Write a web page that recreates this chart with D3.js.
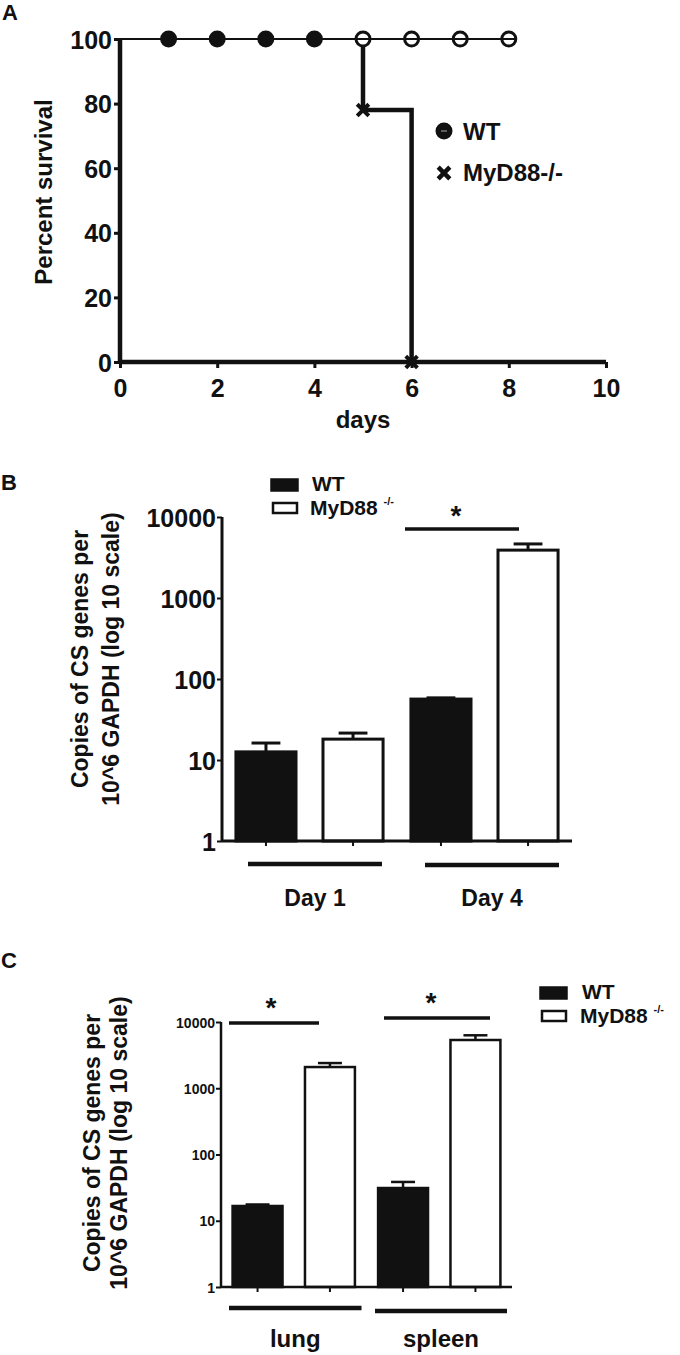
<!DOCTYPE html>
<html><head><meta charset="utf-8">
<script src="https://cdn.jsdelivr.net/npm/d3@7"></script>
<style>
body{margin:0;background:#fff;}
svg{display:block;}
text{font-family:"Liberation Sans",Arial,sans-serif;font-weight:bold;fill:#111;}
</style></head><body>
<script>
// ---------- Panel A data (survival) ----------
const wtDays = [0,1,2,3,4,5,6,7,8];
const wtSurvival = [100,100,100,100,100,100,100,100,100];
const myd88Days = [0,5,6];
const myd88Survival = [100,78,0];
const survXTicks = [0,2,4,6,8,10];
const survYTicks = [0,20,40,60,80,100];

// ---------- Panel B data (blood, by day) ----------
const dayCategories = ["Day 1","Day 4"];
const seriesNames = ["WT","MyD88"];
const dayWT = [12.6, 56.5];
const dayWTerr = [16.2, 58.5];
const dayMyD88 = [18.1, 3900];
const dayMyD88err = [21.5, 4650];

// ---------- Panel C data (tissues) ----------
const tissueCategories = ["lung","spleen"];
const tissueWT = [16.7, 31.2];
const tissueWTerr = [17.6, 38.5];
const tissueMyD88 = [2090, 5350];
const tissueMyD88err = [2400, 6300];

const logTicks = [1,10,100,1000,10000];

const W = 680, H = 1355;
const svg = d3.select("body").append("svg").attr("width",W).attr("height",H);
const ink = "#111";

// ================= Panel A =================
{
  const x = d3.scaleLinear().domain([0,10]).range([120,606]);
  const y = d3.scaleLinear().domain([0,100]).range([362,39]);
  const g = svg.append("g");
  g.append("text").attr("x",2).attr("y",20).attr("font-size",22).text("A");

  const xa = g.append("g").attr("transform",`translate(0,${y(0)})`)
    .call(d3.axisBottom(x).tickValues(survXTicks).tickSize(6).tickPadding(5).tickFormat(d3.format("d")));
  const ya = g.append("g").attr("transform",`translate(${x(0)},0)`)
    .call(d3.axisLeft(y).tickValues(survYTicks).tickSize(6).tickPadding(2).tickFormat(d3.format("d")));
  [xa,ya].forEach(a=>{
    a.select(".domain").attr("stroke",ink).attr("stroke-width",4.5);
    a.selectAll(".tick line").attr("stroke",ink).attr("stroke-width",3);
    a.selectAll(".tick text").attr("font-size",25).attr("fill",ink).attr("font-family","Liberation Sans, Arial, sans-serif");
  });
  xa.selectAll(".tick text").attr("dy","0.95em");
  ya.selectAll(".tick text").attr("dy","0.36em");
  xa.select(".domain").attr("d",`M${x(0)},0H${x(10)}`);
  ya.select(".domain").attr("d",`M0,${y(0)}V${y(100)}`);

  g.append("text").attr("transform",`translate(52,192) rotate(-90)`).attr("text-anchor","middle")
    .attr("font-size",24).text("Percent survival");
  g.append("text").attr("x",363).attr("y",428).attr("text-anchor","middle").attr("font-size",24).text("days");

  // MyD88 step curve (thick), starting at the first drop
  const mPts = myd88Days.map((d,i)=>[d,myd88Survival[i]]);
  const mPath = [[mPts[1][0], mPts[0][1]], ...mPts.slice(1)];
  g.append("path").attr("d", d3.line().x(d=>x(d[0])).y(d=>y(d[1])).curve(d3.curveStepAfter)(mPath))
    .attr("fill","none").attr("stroke",ink).attr("stroke-width",4.5);

  // WT line thin
  const wPts = wtDays.map((d,i)=>[d,wtSurvival[i]]);
  g.append("path").attr("d", d3.line().x(d=>x(d[0])).y(d=>y(d[1])).curve(d3.curveStepAfter)(wPts))
    .attr("fill","none").attr("stroke",ink).attr("stroke-width",2);

  // WT markers
  wPts.slice(1).forEach(p=>{
    const cx = x(p[0]), cy = y(p[1]);
    if (p[0] <= 4) {
      g.append("circle").attr("cx",cx).attr("cy",cy).attr("r",8.5).attr("fill",ink);
    } else {
      g.append("circle").attr("cx",cx).attr("cy",cy).attr("r",7).attr("fill","#fff").attr("stroke",ink).attr("stroke-width",3);
      g.append("line").attr("x1",cx-7).attr("x2",cx+7).attr("y1",cy).attr("y2",cy).attr("stroke",ink).attr("stroke-width",2);
    }
  });
  // MyD88 markers
  const cross = d3.symbol().type(d3.symbolX).size(90);
  mPts.slice(1).forEach(p=>{
    g.append("path").attr("d",cross()).attr("transform",`translate(${x(p[0])},${y(p[1])})`)
      .attr("fill","none").attr("stroke",ink).attr("stroke-width",4);
  });

  // legend
  g.append("circle").attr("cx",444).attr("cy",131).attr("r",8.5).attr("fill",ink);
  g.append("line").attr("x1",441).attr("x2",447).attr("y1",131).attr("y2",131).attr("stroke","#777").attr("stroke-width",1.5);
  g.append("text").attr("x",463).attr("y",140).attr("font-size",24).text("WT");
  g.append("path").attr("d",cross()).attr("transform","translate(444,173)").attr("fill","none").attr("stroke",ink).attr("stroke-width",4.5);
  g.append("text").attr("x",463).attr("y",181).attr("font-size",24).text("MyD88-/-");
}

// ================= Bar panel builder =================
function barPanel(opt){
  const g = svg.append("g");
  g.append("text").attr("x",1).attr("y",opt.letterY).attr("font-size",22).text(opt.letter);
  const x0 = d3.scaleBand().domain(opt.categories).range([opt.x0,opt.x1]).padding(0);
  const x1 = d3.scaleBand().domain(seriesNames).range([0,x0.bandwidth()]).paddingInner(0.31).paddingOuter(0.16);
  const y = d3.scaleLog().domain([1,10000]).range([opt.yBottom,opt.yTop]);

  const data = [];
  opt.categories.forEach((c,i)=>{
    data.push({c, s:"WT", v:opt.wt[i], e:opt.wtErr[i]});
    data.push({c, s:"MyD88", v:opt.myd[i], e:opt.mydErr[i]});
  });
  data.forEach(d=>{
    const bx = x0(d.c)+x1(d.s), bw = x1.bandwidth(), cx = bx+bw/2;
    g.append("line").attr("x1",cx).attr("x2",cx).attr("y1",y(d.v)).attr("y2",y(d.e)).attr("stroke",ink).attr("stroke-width",opt.sw);
    g.append("line").attr("x1",cx-bw*0.24).attr("x2",cx+bw*0.24).attr("y1",y(d.e)).attr("y2",y(d.e)).attr("stroke",ink).attr("stroke-width",opt.sw);
    g.append("rect").attr("x",bx).attr("y",y(d.v)).attr("width",bw).attr("height",y(1)-y(d.v))
      .attr("fill", d.s==="WT"?ink:"#fff").attr("stroke",ink).attr("stroke-width",opt.sw);
  });

  const ya = g.append("g").attr("transform",`translate(${opt.x0},0)`)
    .call(d3.axisLeft(y).tickValues(logTicks).tickSize(5).tickPadding(1).tickFormat(d3.format("d")));
  ya.select(".domain").attr("d",`M0,${y(1)}V${y(10000)}`).attr("stroke",ink).attr("stroke-width",opt.sw);
  ya.selectAll(".tick line").attr("stroke",ink).attr("stroke-width",2);
  ya.selectAll(".tick text").attr("font-size",opt.tickFont).attr("fill",ink).attr("dy","0.36em").attr("font-family","Liberation Sans, Arial, sans-serif");
  g.append("line").attr("x1",opt.x0).attr("x2",opt.x1).attr("y1",y(1)).attr("y2",y(1)).attr("stroke",ink).attr("stroke-width",opt.sw);
  data.forEach(d=>{
    const cx = x0(d.c)+x1(d.s)+x1.bandwidth()/2;
    g.append("line").attr("x1",cx).attr("x2",cx).attr("y1",y(1)).attr("y2",y(1)+5).attr("stroke",ink).attr("stroke-width",2);
  });

  opt.categories.forEach((c,i)=>{
    const a = x0(c)+opt.gl[i][0], b = x0(c)+x0.bandwidth()-opt.gl[i][1];
    g.append("line").attr("x1",a).attr("x2",b).attr("y1",opt.glY[i]).attr("y2",opt.glY[i]).attr("stroke",ink).attr("stroke-width",4.5);
    g.append("text").attr("x",(a+b)/2).attr("y",opt.labelY).attr("text-anchor","middle").attr("font-size",opt.labelFont).text(c);
  });

  opt.sig.forEach(s=>{
    const base = x0(opt.categories[s.i]);
    g.append("line").attr("x1",base+s.a).attr("x2",base+s.b).attr("y1",s.y).attr("y2",s.y).attr("stroke",ink).attr("stroke-width",3.5);
    g.append("text").attr("x",s.sx).attr("y",s.y+s.sdy).attr("text-anchor","middle").attr("font-size",28).text("*");
  });

  g.append("text").attr("transform",`translate(${opt.t1x},${opt.tY}) rotate(-90)`).attr("text-anchor","middle").attr("font-size",23).text("Copies of CS genes per");
  g.append("text").attr("transform",`translate(${opt.t2x},${opt.tY}) rotate(-90)`).attr("text-anchor","middle").attr("font-size",23).text("10^6 GAPDH (log 10 scale)");

  const L = opt.leg;
  g.append("rect").attr("x",L.x).attr("y",L.y).attr("width",27).attr("height",12).attr("fill",ink).attr("stroke",ink).attr("stroke-width",1.5);
  g.append("text").attr("x",L.tx).attr("y",L.y+12).attr("font-size",21).text("WT");
  g.append("rect").attr("x",L.x+2).attr("y",L.y+24).attr("width",24).attr("height",10).attr("fill","#fff").attr("stroke",ink).attr("stroke-width",2.5);
  const t = g.append("text").attr("x",L.tx-2).attr("y",L.y+36).attr("font-size",21);
  t.append("tspan").text("MyD88 ");
  t.append("tspan").attr("font-size",11).attr("dy",-10).text("-/-");
}

barPanel({
  letter:"B", letterY:490, categories:dayCategories,
  wt:dayWT, wtErr:dayWTerr, myd:dayMyD88, mydErr:dayMyD88err,
  x0:222, x1:572, yTop:517, yBottom:841, sw:3, tickFont:25,
  gl:[[26,15],[28,13]], glY:[864,865], labelY:906, labelFont:23,
  sig:[{i:1, a:8, b:122, y:529, sx:456, sdy:-4}],
  t1x:88, t2x:119, tY:659,
  leg:{x:271, y:479, tx:312}
});

barPanel({
  letter:"C", letterY:968, categories:tissueCategories,
  wt:tissueWT, wtErr:tissueWTerr, myd:tissueMyD88, mydErr:tissueMyD88err,
  x0:221, x1:512, yTop:1022, yBottom:1287, sw:2.5, tickFont:14,
  gl:[[8,5],[8.5,5]], glY:[1308,1311], labelY:1347, labelFont:24,
  sig:[{i:0, a:8, b:98, y:1023, sx:271, sdy:-6},{i:1, a:17.5, b:123.5, y:1018, sx:431, sdy:-6}],
  t1x:100, t2x:127, tY:1143,
  leg:{x:540, y:987, tx:582}
});
</script>
</body></html>
